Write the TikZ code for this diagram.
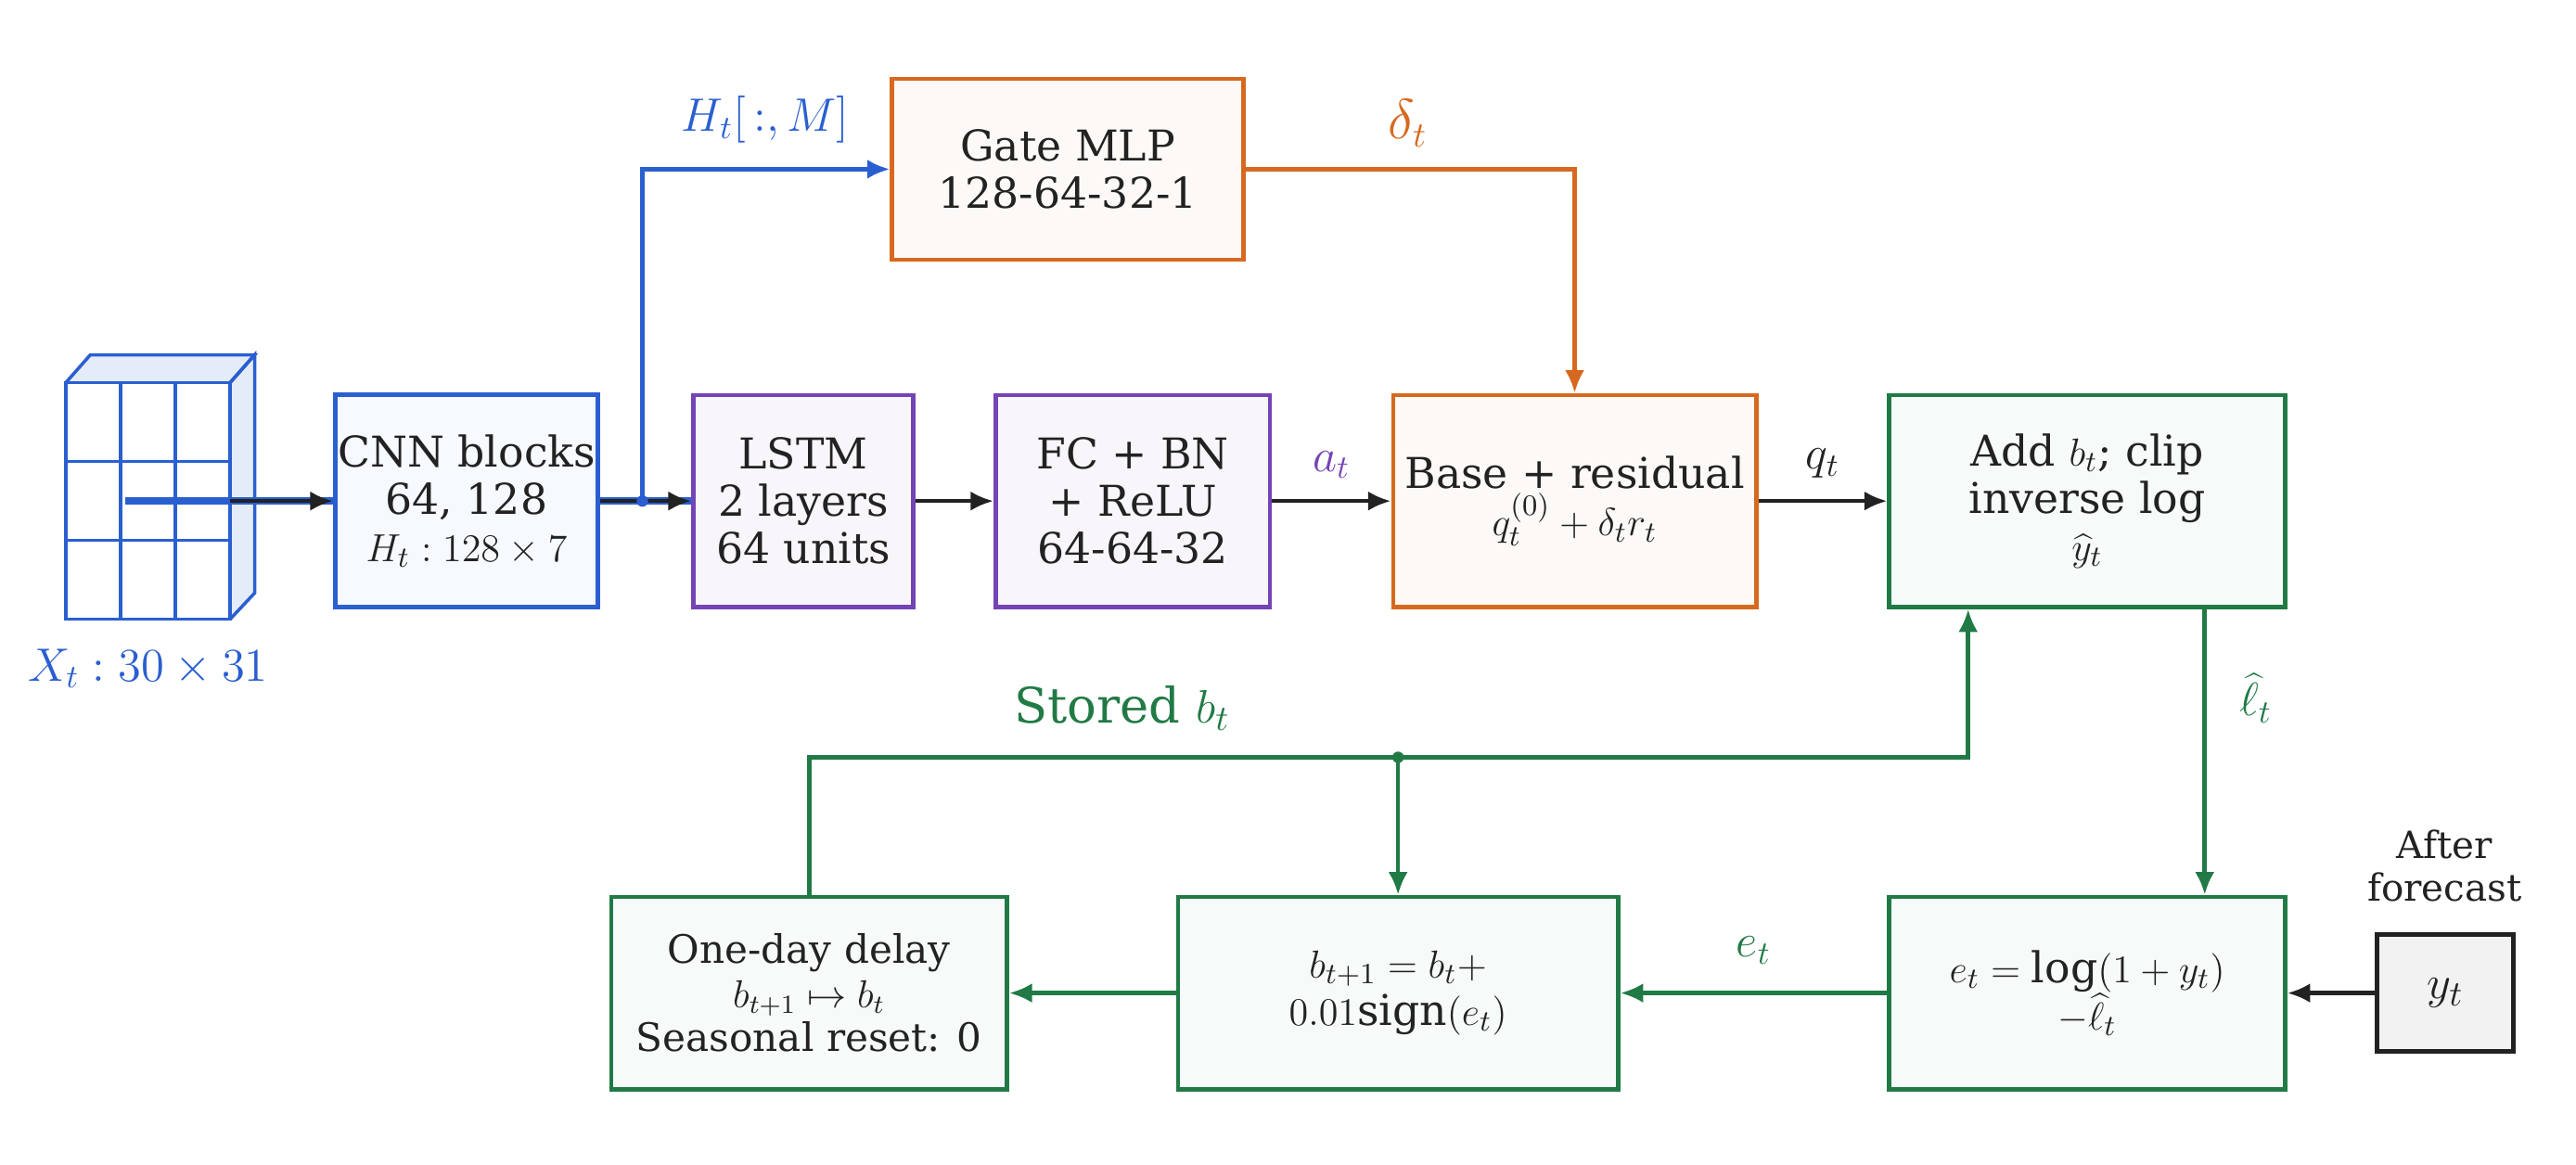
\documentclass[tikz,border=0pt]{standalone}
\usepackage{fontspec}
\setmainfont{DejaVu Serif}
\usetikzlibrary{arrows.meta}
\definecolor{cb}{HTML}{2A5FD0}
\definecolor{cp}{HTML}{7444B4}
\definecolor{co}{HTML}{D6691F}
\definecolor{cg}{HTML}{217A45}
\definecolor{ck}{HTML}{222222}
\begin{document}
\begin{tikzpicture}[x=0.0177cm,y=-0.0177cm,
 bx/.style={draw,line width=1.3pt,align=center,inner sep=0pt,font=\fontsize{13}{14.5}\selectfont,text=ck},
 ar/.style={line width=1.3pt,-{Latex[length=7pt,width=6pt]}},
 lab/.style={font=\fontsize{14}{16}\selectfont}]
\useasboundingbox (0,0) rectangle (1568,709);
% input grid
\begin{scope}[cb,line width=1pt]
\fill[cb!12] (140,233)--(155,216)--(155,361)--(140,377)--cycle;
\fill[cb!12] (40,233)--(55,216)--(155,216)--(140,233)--cycle;
\draw (40,233)--(55,216)--(155,216)--(140,233);
\draw (140,233)--(155,216)--(155,361)--(140,377);
\draw (40,233) rectangle (140,377);
\draw (73.3,233)--(73.3,377) (106.7,233)--(106.7,377) (40,281)--(140,281) (40,329)--(140,329);
\end{scope}
\coordinate (gr) at (140,305);
\node[cb,lab] (xl) at (90,407) {$X_t : 30\times31$};
% boxes
\node[bx,cb,fill=cb!4,minimum width=160\pgflinewidth] (cnn) at (284,305) {};
\path[draw=cb,fill=cb!4,line width=1.3pt] (204,240) rectangle (364,369);
\node[text=ck,align=center,font=\fontsize{13}{14.5}\selectfont] (cnnt) at (284,305) {CNN blocks\\64, 128\\$H_t : 128\times7$};
\node[bx,draw=cb,fill=cb!4,minimum width=160*0.0177cm,minimum height=129*0.0177cm] (cnnb) at (284,305) {CNN blocks\\64, 128\\$H_t : 128\times7$};
\node[bx,draw=cp,fill=cp!5,minimum width=134*0.0177cm,minimum height=129*0.0177cm] (lstm) at (489,305) {LSTM\\2 layers\\64 units};
\node[bx,draw=cp,fill=cp!5,minimum width=167*0.0177cm,minimum height=129*0.0177cm] (fc) at (689.5,305) {FC + BN\\+ ReLU\\64-64-32};
\node[bx,draw=co,fill=co!4,minimum width=214*0.0177cm,minimum height=110*0.0177cm] (gate) at (650,103) {Gate MLP\\128-64-32-1};
\node[bx,draw=co,fill=co!4,minimum width=221*0.0177cm,minimum height=129*0.0177cm] (base) at (958.5,305) {Base + residual\\$q_t^{(0)}+\delta_t r_t$};
\node[bx,draw=cg,fill=cg!4,minimum width=241*0.0177cm,minimum height=129*0.0177cm] (add) at (1270.5,305) {Add $b_t$; clip\\inverse log\\$\widehat{y}_t$};
\node[bx,draw=cg,fill=cg!4,minimum width=241*0.0177cm,minimum height=117*0.0177cm] (err) at (1270.5,604.5) {$e_t=\log(1+y_t)$\\$-\widehat{\ell}_t$};
\node[bx,draw=ck,fill=black!5,minimum width=83*0.0177cm,minimum height=71*0.0177cm,font=\fontsize{15}{17}\selectfont] (y) at (1488.5,604.5) {$y_t$};
\node[ck,align=center,font=\fontsize{11.5}{13}\selectfont] (af) at (1488,527) {After\\forecast};
\node[bx,draw=cg,fill=cg!4,minimum width=268*0.0177cm,minimum height=117*0.0177cm] (bb) at (851,604.5) {$b_{t+1}=b_t+$\\$0.01\mathrm{sign}(e_t)$};
\node[bx,draw=cg,fill=cg!4,minimum width=241*0.0177cm,minimum height=117*0.0177cm,font=\fontsize{12}{13.5}\selectfont] (dl) at (492.5,604.5) {One-day delay\\$b_{t+1}\mapsto b_t$\\Seasonal reset: 0};
% connectors
\draw[ar,ck] (gr) -- (cnnb);
\coordinate (dot) at (391,305);
\draw[ar,ck] (cnnb) -- (lstm);
\draw[ar,ck] (lstm) -- (fc);
\draw[ar,ck] (fc) -- (base) node[midway,above=3pt,cp,lab] {$a_t$};
\draw[ar,ck] (base) -- (add) node[midway,above=3pt,ck,lab] {$q_t$};
\draw[ar,cb] (dot) |- (gate.west);
\fill[cb] (dot) circle (3.5);
\node[cb,lab] (hl) at (466,73) {$H_t[\,:,M]$};
\draw[ar,co] (gate.east) -| (base.north);
\node[co,font=\fontsize{16}{18}\selectfont] (dl2) at (857,75) {$\delta_t$};
\draw[ar,cg] (add.south -| 1342,0) -- (err.north -| 1342,0);
\node[cg,lab] (ll) at (1373,425) {$\widehat{\ell}_t$};
\draw[ar,ck] (y) -- (err);
\draw[ar,cg] (err) -- (bb) node[midway,above=5pt,cg,lab] {$e_t$};
\draw[ar,cg] (bb) -- (dl);
\coordinate (jn) at (851,461);
\draw[ar,cg] (dl.north) |- (jn) -| (add.south -| 1198,0);
\draw[ar,cg] (jn) -- (bb.north);
\fill[cg] (jn) circle (3.5);
\node[cg,font=\fontsize{15}{17}\selectfont] (st) at (683,431) {Stored $b_t$};
\end{tikzpicture}
\end{document}
